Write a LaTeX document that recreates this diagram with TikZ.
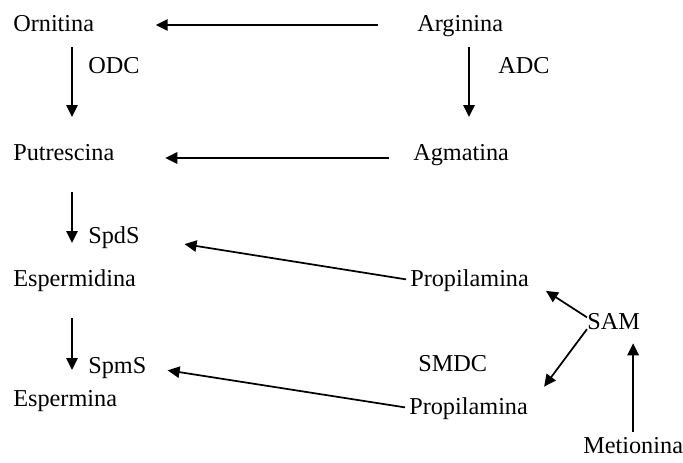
\documentclass[tikz,border=0pt]{standalone}
\usepackage{fontspec}
\setmainfont{Liberation Serif}
\usepackage{tikz}
\usetikzlibrary{arrows.meta,calc}

\begin{document}
\begin{tikzpicture}[x=0.75pt, y=-0.75pt,
    every node/.style={anchor=west, inner sep=0pt, font=\fontsize{18.2}{22}\selectfont, text height=1em, text depth=0em},
    arr/.style={-{Triangle[length=9pt, width=8.5pt]}, line width=1.3pt}]
    \useasboundingbox (0,0) rectangle (683,462);
    \node (orn) at (13,25) {Ornitina};
    \node (arg) at (417,25) {Arginina};
    \node (odc) at (88,67) {ODC};
    \node (adc) at (498,67) {ADC};
    \node (put) at (13,154) {Putrescina};
    \node (agm) at (413,154) {Agmatina};
    \node (spds) at (88,237) {SpdS};
    \node (espd) at (13,280) {Espermidina};
    \node (prop1) at (410,280) {Propilamina};
    \node (sam) at (587,323) {SAM};
    \node (smdc) at (418,365) {SMDC};
    \node (spms) at (88,367) {SpmS};
    \node (espm) at (13,400) {Espermina};
    \node (prop2) at (409,408) {Propilamina};
    \node (met) at (583,447) {Metionina};

    \draw[arr, shorten <=29pt, shorten >=46pt] (arg.west) -- (orn.east);
    \draw[arr, shorten <=18pt, shorten >=38pt] ([yshift=-3pt]agm.west) -- ([yshift=-3pt]put.east);
    \draw[arr] ($(odc.west)+(-16,-20)$) -- ($(odc.west)+(-16,50)$);
    \draw[arr] ($(adc.west)+(-29,-20)$) -- ($(adc.west)+(-29,50)$);
    \draw[arr] ($(spds.west)+(-16,-45)$) -- ($(spds.west)+(-16,6)$);
    \draw[arr] ($(spms.west)+(-16,-49)$) -- ($(spms.west)+(-16,3)$);
    \draw[arr, shorten <=3pt, shorten >=34pt] (prop1.west) -- (spds.east);
    \draw[arr, shorten <=3pt, shorten >=16pt] (prop2.west) -- (spms.east);
    \draw[arr, shorten >=15pt] (sam.168) -- (prop1.east);
    \draw[arr, shorten >=20pt] (sam.193) -- (prop2.east);
    \draw[arr, shorten <=6pt, shorten >=10pt] (met.north) -- (met.north |- sam.south);
\end{tikzpicture}
\end{document}
